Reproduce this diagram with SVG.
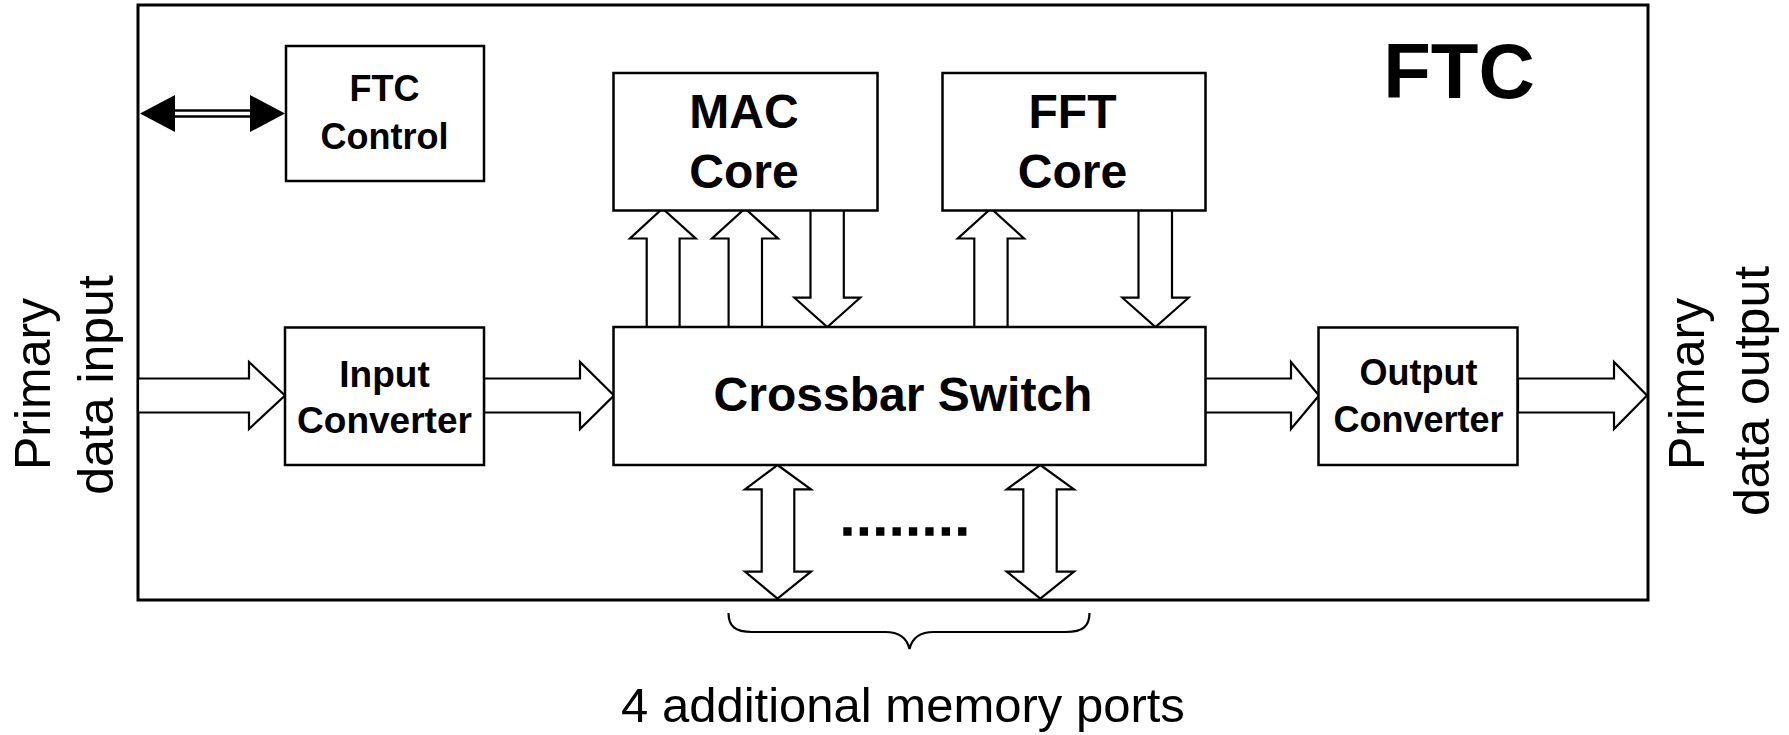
<svg xmlns="http://www.w3.org/2000/svg" width="1789" height="735" viewBox="0 0 1789 735">
  <style>
    .box { fill: #fff; stroke: #000; stroke-width: 2.5; }
    .frame { fill: none; stroke: #000; stroke-width: 3; }
    .blk { fill: #fff; stroke: #000; stroke-width: 2.2; stroke-linejoin: miter; }
    .lbl { font-family: "Liberation Sans", Arial, sans-serif; font-weight: bold; fill: #000; text-anchor: middle; }
    .side { font-family: "Liberation Sans", Arial, sans-serif; font-size: 50px; fill: #000; text-anchor: middle; }
    .note { font-family: "Liberation Sans", Arial, sans-serif; font-size: 49px; fill: #000; text-anchor: middle; }
  </style>

  <rect width="1789" height="735" fill="#fff"/>

  <!-- FTC enclosure -->
  <g id="ftc">
    <rect class="frame" x="138" y="5" width="1510" height="595"/>
    <text class="lbl" x="1459" y="98" font-size="78">FTC</text>
  </g>

  <!-- block arrows between units -->
  <g id="connectors">
    <!-- control link (filled heads, double-line shaft) -->
    <polygon points="140,113.5 175,95 175,132" fill="#000"/>
    <polygon points="285,113.5 250,95 250,132" fill="#000"/>
    <line x1="174" y1="110.5" x2="251" y2="110.5" stroke="#000" stroke-width="2.6"/>
    <line x1="174" y1="116.5" x2="251" y2="116.5" stroke="#000" stroke-width="2.6"/>

    <!-- horizontal data path -->
    <polygon class="blk" points="138,378.5 249,378.5 249,362 285,395.5 249,429 249,412.5 138,412.5"/>
    <polygon class="blk" points="484,378.5 580,378.5 580,362 614,395.5 580,429 580,412.5 484,412.5"/>
    <polygon class="blk" points="1205,378.5 1291,378.5 1291,362 1319,395.5 1291,429 1291,412.5 1205,412.5"/>
    <polygon class="blk" points="1518,378.5 1614,378.5 1614,362 1647,395.5 1614,429 1614,412.5 1518,412.5"/>

    <!-- crossbar to MAC core -->
    <polygon class="blk" points="646.7,327 646.7,238.5 630,238.5 662.5,208.5 695.7,238.5 679.6,238.5 679.6,327"/>
    <polygon class="blk" points="728.6,327 728.6,238.5 712,238.5 745,208.5 778,238.5 762,238.5 762,327"/>
    <polygon class="blk" points="810.5,208 843.8,208 843.8,297.7 860.2,297.7 827.3,327 794.4,297.7 810.5,297.7"/>

    <!-- crossbar to FFT core -->
    <polygon class="blk" points="974.3,327 974.3,238.5 957.8,238.5 991,208.5 1024,238.5 1007.6,238.5 1007.6,327"/>
    <polygon class="blk" points="1138.5,208 1172,208 1172,297.7 1188.6,297.7 1155.5,327 1122.4,297.7 1138.5,297.7"/>

    <!-- memory ports -->
    <polygon class="blk" points="777.5,465 811,489.3 794.3,489.3 794.3,571.7 811,571.7 777.5,598.5 745,571.7 761.7,571.7 761.7,489.3 745,489.3"/>
    <polygon class="blk" points="1040.3,465 1074,489.3 1056.7,489.3 1056.7,571.7 1074,571.7 1040.3,598.5 1006.7,571.7 1023.3,571.7 1023.3,489.3 1006.7,489.3"/>
    <line x1="843.3" y1="531.5" x2="966.7" y2="531.5" stroke="#000" stroke-width="8.3" stroke-dasharray="8.3 8.1"/>
  </g>

  <g id="ftc-control">
    <rect class="box" x="286" y="46" width="198" height="135"/>
    <text class="lbl" x="384.5" y="101" font-size="36">FTC</text>
    <text class="lbl" x="384.5" y="149" font-size="36">Control</text>
  </g>

  <g id="mac-core">
    <rect class="box" x="613.5" y="73" width="264" height="137.5"/>
    <text class="lbl" x="744" y="128" font-size="48">MAC</text>
    <text class="lbl" x="744" y="188" font-size="48">Core</text>
  </g>

  <g id="fft-core">
    <rect class="box" x="942.5" y="73" width="263" height="137.5"/>
    <text class="lbl" x="1072.5" y="128" font-size="48">FFT</text>
    <text class="lbl" x="1072.5" y="188" font-size="48">Core</text>
  </g>

  <g id="crossbar">
    <rect class="box" x="613.5" y="327" width="592" height="138"/>
    <text class="lbl" x="903" y="411" font-size="48">Crossbar Switch</text>
  </g>

  <g id="input-converter">
    <rect class="box" x="285" y="327.5" width="199" height="137.5"/>
    <text class="lbl" x="384.5" y="387" font-size="37">Input</text>
    <text class="lbl" x="384.5" y="433" font-size="37">Converter</text>
  </g>

  <g id="output-converter">
    <rect class="box" x="1318.5" y="327.5" width="199" height="137.5"/>
    <text class="lbl" x="1418.5" y="385" font-size="36">Output</text>
    <text class="lbl" x="1418.5" y="432" font-size="36">Converter</text>
  </g>

  <!-- external port labels -->
  <g id="input-label">
    <text class="side" transform="translate(50,384) rotate(-90)">Primary</text>
    <text class="side" transform="translate(113,385) rotate(-90)">data input</text>
  </g>
  <g id="output-label">
    <text class="side" transform="translate(1704,384) rotate(-90)">Primary</text>
    <text class="side" transform="translate(1769,391) rotate(-90)">data output</text>
  </g>

  <!-- brace over the memory ports -->
  <g id="memory-ports">
    <path d="M728.5,613 C728.5,626 735,632 752,632 L885,632 C900,632 907,638 909.5,649 C912,638 919,632 934,632 L1066,632 C1083,632 1089.5,626 1089.5,613" fill="none" stroke="#000" stroke-width="2.2"/>
    <text class="note" x="903" y="722">4 additional memory ports</text>
  </g>
</svg>
